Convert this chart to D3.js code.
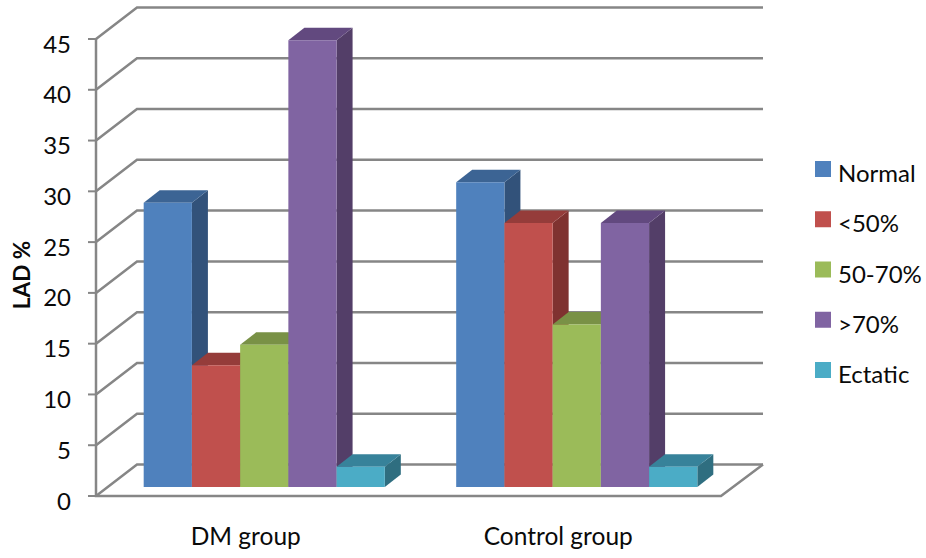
<!DOCTYPE html>
<html><head><meta charset="utf-8">
<script src="https://cdn.jsdelivr.net/npm/d3@7"></script>
<style>html,body{margin:0;background:#fff}svg{display:block}text{font-family:Lato,"Open Sans",sans-serif;fill:#0a0a0a}</style>
</head><body><svg id="c" width="926" height="558"></svg>
<script>
const categories = ["DM group", "Control group"];
const seriesNames = ["Normal", "<50%", "50-70%", ">70%", "Ectatic"];
const normal = [28, 30];
const lt50 = [12, 26];
const mid5070 = [14, 16];
const gt70 = [44, 26];
const ectatic = [2, 2];
const seriesValues = [normal, lt50, mid5070, gt70, ectatic];
const colors = ["#4F81BD", "#C0504D", "#9BBB59", "#8064A2", "#4BACC6"];
const topColors = ["#3C6494", "#953C3A", "#799146", "#62497F", "#37829A"];
const sideColors = ["#32527A", "#7F3230", "#647A3A", "#533E68", "#2F6E80"];
const yTicks = [0, 5, 10, 15, 20, 25, 30, 35, 40, 45];
const axisTitle = "LAD %";

const svg = d3.select("#c");
const grid = "#868686";
const y = d3.scaleLinear().domain([0, 45]).range([496, 39]);
const x0 = d3.scaleBand().domain(categories).range([96, 721]);
const wall = {dx: 41, dy: -31.5};
const barPlane = {dx: 12, dy: -9};
const barDepth = {dx: 16, dy: -12.5};
const x1 = d3.scaleBand().domain(seriesNames).range([0, x0.bandwidth()]).paddingOuter(0.74).paddingInner(0);

// gridlines on the back wall and side wall
const g = svg.append("g").attr("fill", "none").attr("stroke", grid);
yTicks.forEach(t => {
  g.append("path").attr("stroke-width", 2.5)
    .attr("d", d3.line()([[96, y(t)], [96 + wall.dx, y(t) + wall.dy], [763, y(t) + wall.dy]]));
  g.append("line").attr("stroke-width", 2).attr("x1", 88).attr("x2", 96).attr("y1", y(t)).attr("y2", y(t));
});
g.append("path").attr("stroke-width", 2.5)
  .attr("d", d3.line()([[763, y(0) + wall.dy], [721, y(0)], [96, y(0)], [96, y(45)]]));

// bars
const bars = svg.append("g");
categories.forEach((cat, ci) => {
  seriesNames.forEach((name, si) => {
    const v = seriesValues[si][ci];
    const xl = x0(cat) + barPlane.dx + x1(name), xr = xl + x1.bandwidth();
    const yt = y(v) + barPlane.dy, yb = y(0) + barPlane.dy;
    const poly = pts => bars.append("polygon").attr("points", pts.map(p => p.join(",")).join(" "));
    poly([[xr, yt], [xr + barDepth.dx, yt + barDepth.dy], [xr + barDepth.dx, yb + barDepth.dy], [xr, yb]]).attr("fill", sideColors[si]);
    poly([[xl, yt], [xl + barDepth.dx, yt + barDepth.dy], [xr + barDepth.dx, yt + barDepth.dy], [xr, yt]]).attr("fill", topColors[si]);
    poly([[xl, yt], [xr, yt], [xr, yb], [xl, yb]]).attr("fill", colors[si]);
  });
});

// tick labels
svg.append("g").selectAll("text").data(yTicks).join("text")
  .attr("x", 71).attr("y", d => y(d) + 13.5).attr("text-anchor", "end")
  .attr("font-size", 24).text(d => d);

// category labels
svg.append("g").selectAll("text").data(categories).join("text")
  .attr("x", d => x0(d) + x0.bandwidth() / 2 - 6.5).attr("y", 545)
  .attr("text-anchor", "middle").attr("font-size", 24.5).text(d => d);

// axis title
svg.append("text").attr("transform", "translate(30,275) rotate(-90)")
  .attr("text-anchor", "middle").attr("font-size", 22.5).attr("font-weight", 700).text(axisTitle);

// legend
const legendY = d3.scalePoint().domain(seriesNames).range([161, 362]);
const lg = svg.append("g").selectAll("g").data(seriesNames).join("g")
  .attr("transform", d => `translate(815,${legendY(d)})`);
lg.append("rect").attr("width", 16).attr("height", 16).attr("fill", (d, i) => colors[i]);
lg.append("text").attr("x", 23).attr("y", 21).attr("font-size", 24).text(d => d);
</script></body></html>
